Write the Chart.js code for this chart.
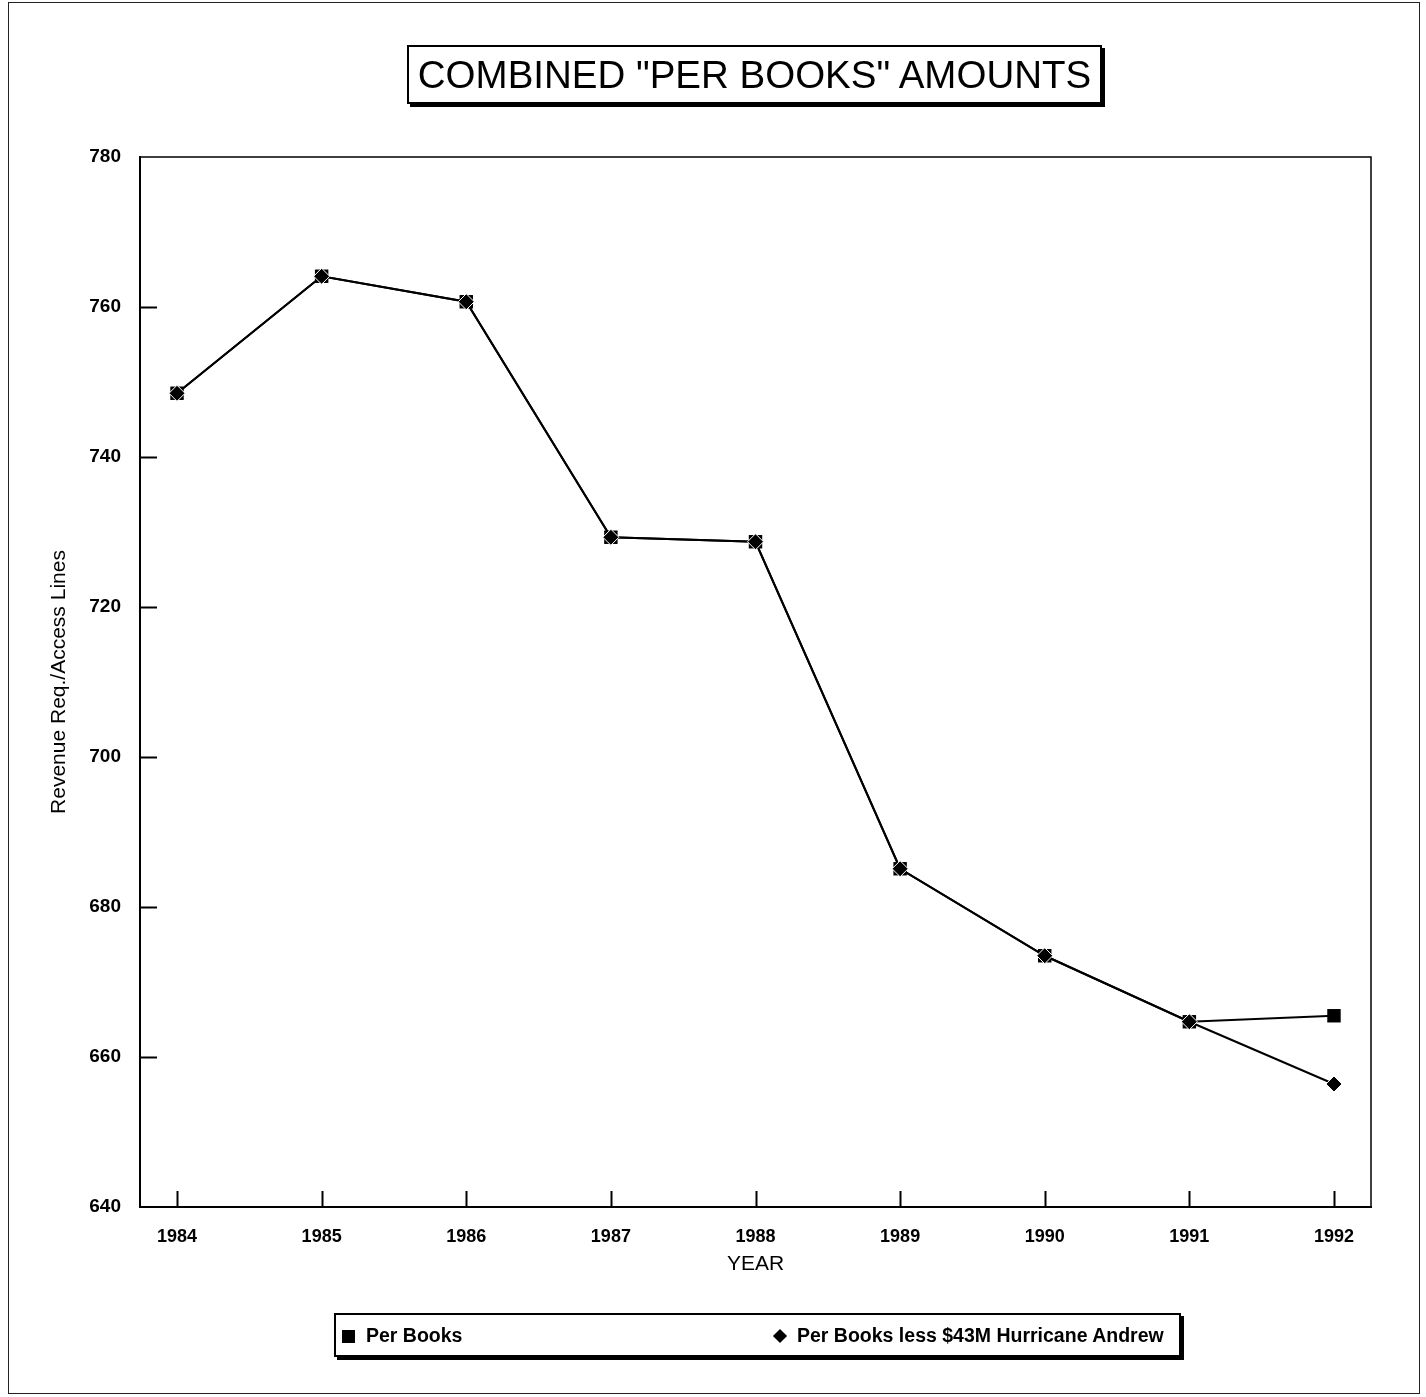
<!DOCTYPE html>
<html lang="en">
<head>
  <meta charset="UTF-8" />
  <title>Combined Per Books Amounts</title>
  <script src="https://cdn.jsdelivr.net/npm/chart.js"></script>
  <style>
    html, body { margin: 0; padding: 0; background: #fff; }
    body { width: 1426px; height: 1397px; position: relative; overflow: hidden; font-family: 'Liberation Sans', Arial, sans-serif; }
    #frame {
      position: absolute; left: 8px; top: 2px; width: 1410px; height: 1390px;
      border: 1px solid #222;
    }
    #chartWrap { position: absolute; left: 0; top: 0; width: 1426px; height: 1397px; }
    #title {
      position: absolute; left: 407px; top: 45px; width: 691px; height: 55px;
      border: 2px solid #000; box-shadow: 3px 3px 0 #000;
      font-size: 38.5px; line-height: 55px; text-align: center; color: #000;
      background: #fff;
    }
    #legend {
      position: absolute; left: 334px; top: 1313px; width: 843px; height: 40px;
      border: 2px solid #000; box-shadow: 3px 3px 0 #000; background: #fff;
      font-weight: bold; font-size: 19.5px; color: #000;
    }
    #legend .item { position: absolute; top: 0; line-height: 40px; white-space: nowrap; }
    #legend .sq { display: inline-block; width: 13px; height: 13px; background: #000; vertical-align: -1px; margin-right: 11px; }
    #legend .dm { display: inline-block; width: 10px; height: 10px; background: #000; transform: rotate(45deg); vertical-align: 1px; margin-right: 12px; margin-left: 2px; }
  </style>
</head>
<body>
<div id="frame"></div>
<div id="chartWrap"><canvas id="chart" width="1426" height="1397"></canvas></div>
<div id="title">COMBINED "PER BOOKS" AMOUNTS</div>
<div id="legend">
  <div class="item" style="left:6px"><span class="sq"></span>Per Books</div>
  <div class="item" style="left:437px"><span class="dm"></span>Per Books less $43M Hurricane Andrew</div>
</div>

<script>
  // values
  const years = [1984, 1985, 1986, 1987, 1988, 1989, 1990, 1991, 1992];
  const perBooks = [748.5, 764.1, 760.7, 729.3, 728.7, 685.1, 673.5, 664.7, 665.5];
  const lessHurricane = [748.5, 764.1, 760.7, 729.3, 728.7, 685.1, 673.5, 664.7, 656.4];
  const yTicks = [640, 660, 680, 700, 720, 740, 760, 780];

  const toPoints = arr => years.map((yr, i) => ({ x: yr, y: arr[i] }));

  // short tick marks pointing into the plot, plus the top/right frame
  const innerTicks = {
    id: 'innerTicks',
    afterDraw(chart) {
      const { ctx, chartArea: a, scales: { x, y } } = chart;
      ctx.save();
      ctx.strokeStyle = '#000';
      ctx.lineWidth = 1.5;
      ctx.strokeRect(a.left, a.top, a.right - a.left, a.bottom - a.top);
      ctx.lineWidth = 2;
      ctx.beginPath();
      yTicks.slice(1, -1).forEach(v => {
        const py = Math.round(y.getPixelForValue(v)) + 0.5;
        ctx.moveTo(a.left, py);
        ctx.lineTo(a.left + 17, py);
      });
      years.forEach(v => {
        const px = Math.round(x.getPixelForValue(v)) + 0.5;
        ctx.moveTo(px, a.bottom);
        ctx.lineTo(px, a.bottom - 16);
      });
      ctx.stroke();
      ctx.restore();
    }
  };

  new Chart(document.getElementById('chart'), {
    type: 'line',
    data: {
      datasets: [{
        label: 'Per Books',
        data: toPoints(perBooks),
        borderColor: '#000',
        borderWidth: 2,
        backgroundColor: '#000',
        pointStyle: 'rect',
        pointRadius: 9.5,
        pointBorderWidth: 0,
        pointBackgroundColor: '#000',
        order: 1
      }, {
        label: 'Per Books less $43M Hurricane Andrew',
        data: toPoints(lessHurricane),
        borderColor: '#000',
        borderWidth: 2,
        backgroundColor: '#000',
        pointStyle: 'rectRot',
        pointRadius: 8,
        pointBorderWidth: 1,
        pointBorderColor: '#fff',
        pointBackgroundColor: '#000',
        order: 0
      }]
    },
    options: {
      responsive: false,
      animation: false,
      layout: { padding: { top: 157, right: 55, left: 0, bottom: 0 } },
      plugins: { legend: { display: false }, tooltip: { enabled: false } },
      scales: {
        x: {
          type: 'linear',
          min: 1983.744,
          max: 1992.256,
          afterFit: s => { s.height = 190; },
          afterBuildTicks: s => { s.ticks = years.map(v => ({ value: v })); },
          grid: { display: false, drawTicks: false },
          border: { display: true, color: '#000', width: 2 },
          ticks: {
            color: '#000',
            padding: 19,
            maxRotation: 0,
            font: { family: "'Liberation Sans', Arial, sans-serif", size: 18, weight: 'bold' },
            callback: v => String(v)
          },
          title: {
            display: true,
            text: 'YEAR',
            color: '#000',
            font: { family: "'Liberation Sans', Arial, sans-serif", size: 21 },
            padding: { top: 0, bottom: 120 }
          }
        },
        y: {
          min: 640,
          max: 780,
          afterFit: s => { s.width = 140; },
          afterBuildTicks: s => { s.ticks = yTicks.map(v => ({ value: v })); },
          grid: { display: false, drawTicks: false },
          border: { display: true, color: '#000', width: 2 },
          ticks: {
            color: '#000',
            padding: 19,
            font: { family: "'Liberation Sans', Arial, sans-serif", size: 19, weight: 'bold' }
          },
          title: {
            display: true,
            text: 'Revenue Req./Access Lines',
            color: '#000',
            font: { family: "'Liberation Sans', Arial, sans-serif", size: 21 },
            padding: { top: 47, bottom: 0 }
          }
        }
      }
    },
    plugins: [innerTicks]
  });
</script>
</body>
</html>
